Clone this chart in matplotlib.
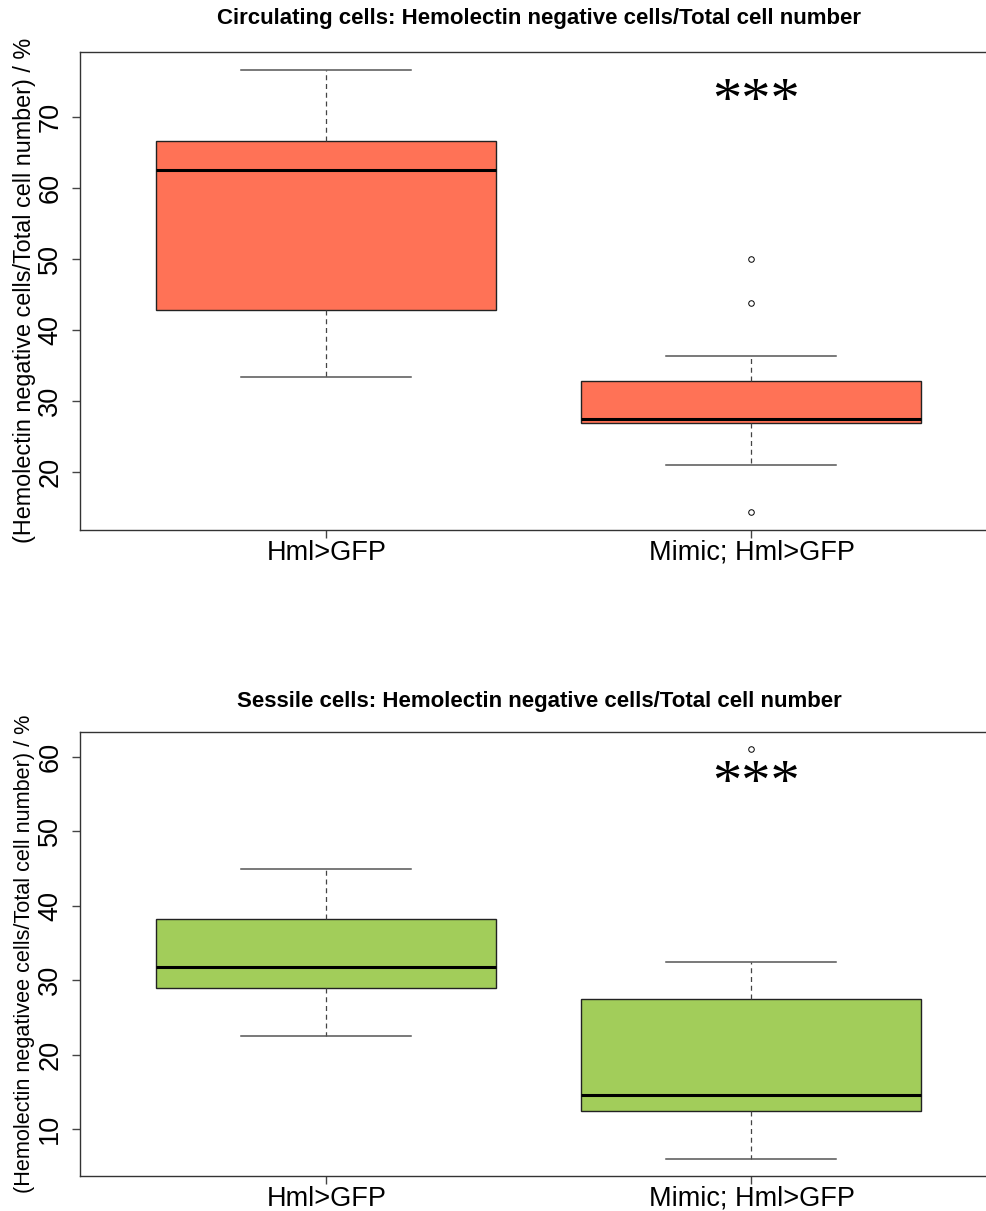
import matplotlib
matplotlib.use("Agg")
import matplotlib.pyplot as plt

plt.rcParams['font.family'] = ['Liberation Sans', 'DejaVu Sans']

groups = ["Hml>GFP", "Mimic; Hml>GFP"]

# circulating cells: whislo, q1, median, q3, whishi, outliers
circ_whislo = [33.4, 21.1]
circ_q1 = [42.9, 27.0]
circ_med = [62.5, 27.5]
circ_q3 = [66.6, 32.8]
circ_whishi = [76.6, 36.4]
circ_fliers = [[], [50.0, 43.8, 14.5]]
circ_star_y = 72.0

# sessile cells
sess_whislo = [22.5, 6.0]
sess_q1 = [29.0, 12.4]
sess_med = [31.8, 14.6]
sess_q3 = [38.2, 27.5]
sess_whishi = [44.9, 32.5]
sess_fliers = [[], [61.0]]
sess_star_y = 56.2

circ_col = "#FF7256"   # coral1
sess_col = "#A2CD5A"   # DarkOliveGreen3


def make_stats(lo, q1, med, q3, hi, fl):
    out = []
    for i in range(len(lo)):
        out.append(dict(whislo=lo[i], q1=q1[i], med=med[i], q3=q3[i],
                        whishi=hi[i], fliers=fl[i]))
    return out


def draw(ax, stats, col, title, ylab, yticks, star_y, title_pad, ylab_size):
    ax.bxp(stats, positions=[1, 2], widths=0.8, patch_artist=True,
           showfliers=True,
           boxprops=dict(facecolor=col, edgecolor="#222222", linewidth=1.0),
           medianprops=dict(color="black", linewidth=2.2),
           whiskerprops=dict(color="#444444", linewidth=0.9, linestyle=(0, (4, 3))),
           capprops=dict(color="#555555", linewidth=1.1),
           capwidths=0.4,
           flierprops=dict(marker="o", markersize=4, markerfacecolor="white",
                           markeredgecolor="black", markeredgewidth=0.7))
    ax.set_xlim(0.42, 2.58)
    ax.set_xticks([1, 2])
    ax.set_xticklabels(groups, fontsize=19.5)
    ax.set_yticks(yticks)
    ax.set_yticklabels([str(t) for t in yticks], fontsize=19.5, rotation=90, va="center")
    ax.tick_params(axis="y", length=6, width=1, color="#444444", pad=6)
    ax.tick_params(axis="x", length=6, width=1, color="#444444", pad=1)
    for s in ax.spines.values():
        s.set_color("#333333")
        s.set_linewidth(1.0)
    ax.set_title(title, fontsize=16, fontweight="bold", pad=title_pad)
    ax.set_ylabel(ylab, fontsize=ylab_size, va="center")
    ax.yaxis.set_label_coords(-0.061, 0.5)
    ax.text(2.01, star_y, "***", fontsize=42, family="Liberation Serif",
            ha="center", va="center")


fig = plt.figure(figsize=(9.87, 12.11), dpi=100)

ax1 = fig.add_axes([80 / 987, 1 - 530 / 1211, 918 / 987, (530 - 51.7) / 1211])
draw(ax1, make_stats(circ_whislo, circ_q1, circ_med, circ_q3, circ_whishi, circ_fliers),
     circ_col, "Circulating cells: Hemolectin negative cells/Total cell number",
     "(Hemolectin negative cells/Total cell number) / %",
     [20, 30, 40, 50, 60, 70], circ_star_y, 20, 16.8)
ax1.set_ylim(11.9, 79.2)

ax2 = fig.add_axes([80 / 987, 1 - 1176 / 1211, 918 / 987, (1176 - 732.3) / 1211])
draw(ax2, make_stats(sess_whislo, sess_q1, sess_med, sess_q3, sess_whishi, sess_fliers),
     sess_col, "Sessile cells: Hemolectin negative cells/Total cell number",
     "(Hemolectin negativee cells/Total cell number) / %",
     [10, 20, 30, 40, 50, 60], sess_star_y, 18, 15.6)
ax2.set_ylim(3.7, 63.3)

fig.savefig("out.png", dpi=100)
